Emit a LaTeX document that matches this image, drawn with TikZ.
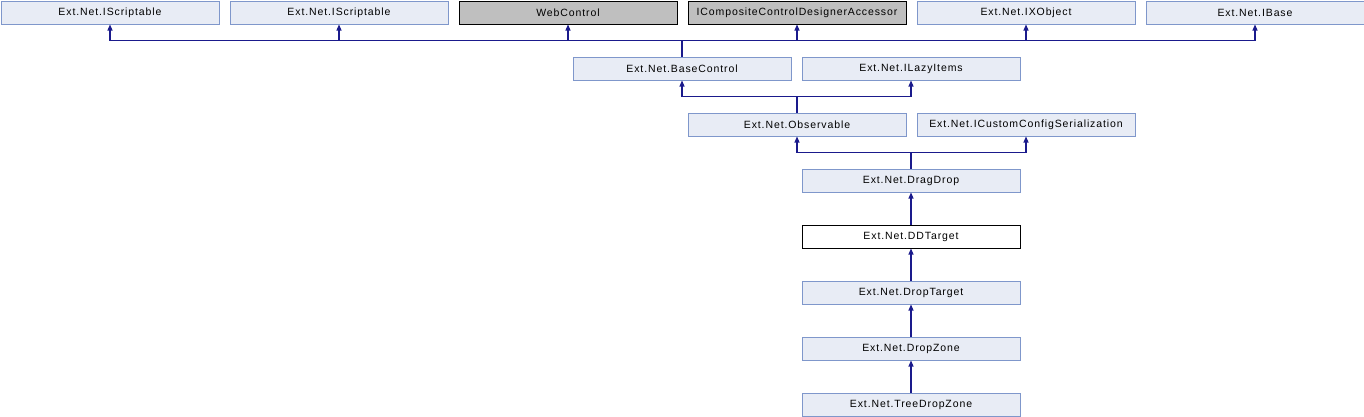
\documentclass[tikz,border=0pt]{standalone}
\usepackage{fontspec}
\setmainfont{Liberation Sans}
\newfontfamily\dfont[LetterSpace=8.5]{Liberation Sans}
\usetikzlibrary{arrows.meta}
\definecolor{boxfill}{HTML}{E8ECF5}
\definecolor{boxline}{HTML}{7F97CB}
\definecolor{grayfill}{HTML}{BFBFBF}
\definecolor{edgecol}{HTML}{1A1A8C}
\begin{document}
\begin{tikzpicture}[x=1pt,y=-1pt,
  cls/.style={draw=boxline,fill=boxfill,line width=1pt,minimum width=218pt,minimum height=23pt,inner sep=0pt,anchor=north west,font=\dfont\fontsize{10.5}{12}\selectfont},
  ext/.style={cls,draw=black,fill=grayfill},
  cur/.style={cls,draw=black,fill=white},
  edge/.style={draw=edgecol,line width=1.1pt,-{Triangle[width=5pt,length=6pt]}}]
\useasboundingbox (0,0) rectangle (1364,416);
% top row
\node[cls] (is1) at (0.5,0.5) {Ext.Net.IScriptable};
\node[cls] (is2) at (229.5,0.5) {Ext.Net.IScriptable};
\node[ext] (wc) at (458.5,0.5) {WebControl};
\node[ext] (icc) at (687.5,0.5) {ICompositeControlDesignerAccessor};
\node[cls] (ixo) at (916.5,0.5) {Ext.Net.IXObject};
\node[cls] (ibase) at (1145.5,0.5) {Ext.Net.IBase};
% row 2
\node[cls] (bc) at (572.5,56.5) {Ext.Net.BaseControl};
\node[cls] (lazy) at (801.5,56.5) {Ext.Net.ILazyItems};
% row 3
\node[cls] (obs) at (687.5,112.5) {Ext.Net.Observable};
\node[cls] (ccs) at (916.5,112.5) {Ext.Net.ICustomConfigSerialization};
% chain
\node[cls] (dd) at (801.5,168.5) {Ext.Net.DragDrop};
\node[cur] (ddt) at (801.5,224.5) {Ext.Net.DDTarget};
\node[cls] (dt) at (801.5,280.5) {Ext.Net.DropTarget};
\node[cls] (dz) at (801.5,336.5) {Ext.Net.DropZone};
\node[cls] (tdz) at (801.5,392.5) {Ext.Net.TreeDropZone};
% buses
\coordinate (b1) at (bc.north |- 0,40.5);
\coordinate (b2) at (obs.north |- 0,96.5);
\coordinate (b3) at (dd.north |- 0,152.5);
\foreach \p in {is1,is2,wc,icc,ixo,ibase}
  \draw[edge] (bc.north) -- (b1) -| (\p.south);
\foreach \p in {bc,lazy}
  \draw[edge] (obs.north) -- (b2) -| (\p.south);
\foreach \p in {obs,ccs}
  \draw[edge] (dd.north) -- (b3) -| (\p.south);
\draw[edge] (ddt) -- (dd);
\draw[edge] (dt) -- (ddt);
\draw[edge] (dz) -- (dt);
\draw[edge] (tdz) -- (dz);
\end{tikzpicture}
\end{document}
